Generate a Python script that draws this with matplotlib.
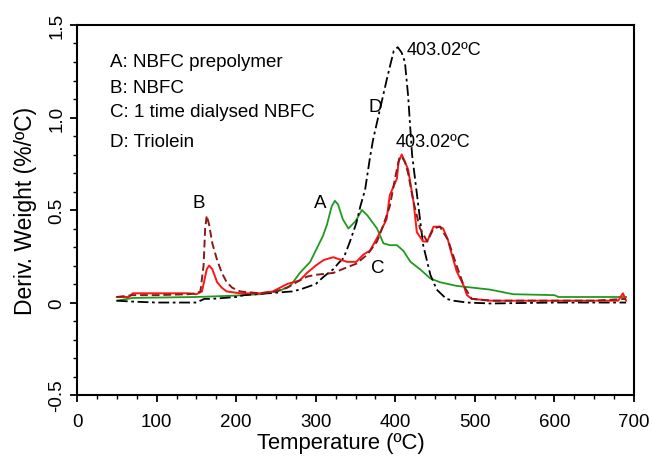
import matplotlib
matplotlib.use("Agg")
import matplotlib.pyplot as plt
from matplotlib.ticker import MultipleLocator

plt.rcParams['font.family'] = ['Liberation Sans', 'DejaVu Sans']

# D: Triolein (black dash-dot)
d_x = [50, 70, 100, 130, 150, 160, 170, 200, 210, 240, 270, 280, 300, 310, 322, 330, 335, 343,
       351, 356, 362, 368, 372, 381, 390, 398, 403, 408, 412, 416, 421, 429, 435, 444, 452, 464,
       473, 490, 520, 600, 650, 690]
d_y = [0.01, 0.005, 0.0, 0.0, 0.0, 0.02, 0.02, 0.03, 0.04, 0.05, 0.06, 0.07, 0.10, 0.14, 0.18, 0.22,
       0.24, 0.33, 0.43, 0.52, 0.61, 0.78, 0.88, 1.05, 1.22, 1.36, 1.38, 1.35, 1.30, 1.12, 0.80, 0.52,
       0.31, 0.15, 0.07, 0.02, 0.01, 0.0, -0.005, 0.0, 0.0, 0.0]

# A: NBFC prepolymer (green)
a_x = [50, 70, 150, 196, 230, 255, 268, 280, 293, 301, 309, 314, 320, 324, 328, 334, 341, 350,
       358, 365, 377, 385, 393, 402, 410, 419, 431, 444, 456, 477, 498, 519, 548, 600, 605, 650, 690]
a_y = [0.01, 0.025, 0.03, 0.037, 0.045, 0.065, 0.09, 0.16, 0.22, 0.29, 0.36, 0.42, 0.52, 0.55, 0.53,
       0.45, 0.40, 0.44, 0.50, 0.47, 0.40, 0.32, 0.31, 0.31, 0.28, 0.22, 0.18, 0.13, 0.11, 0.09, 0.08,
       0.07, 0.045, 0.04, 0.03, 0.03, 0.03]

# B: NBFC (dark red dashed)
b_x = [50, 70, 100, 140, 150, 155, 159, 161, 163, 166, 170, 176, 182, 188, 195, 205, 230, 250, 264,
       280, 289, 300, 322, 339, 351, 365, 377, 385, 393, 400, 405, 408, 412, 416, 423, 431, 440, 448,
       456, 466, 477, 486, 496, 520, 600, 650, 690]
b_y = [0.03, 0.04, 0.04, 0.045, 0.05, 0.06, 0.20, 0.40, 0.47, 0.42, 0.32, 0.23, 0.16, 0.11, 0.08,
       0.06, 0.05, 0.06, 0.08, 0.12, 0.14, 0.15, 0.16, 0.19, 0.21, 0.26, 0.33, 0.42, 0.52, 0.68, 0.78,
       0.79, 0.76, 0.70, 0.54, 0.40, 0.33, 0.40, 0.41, 0.34, 0.20, 0.09, 0.02, 0.01, 0.01, 0.01, 0.02]

# C: 1 time dialysed NBFC (bright red)
c_x = [50, 65, 70, 140, 150, 157, 160, 163, 166, 170, 176, 182, 188, 205, 230, 246, 264, 280, 289,
       300, 310, 322, 339, 351, 360, 368, 372, 381, 389, 393, 402, 404, 408, 410, 416, 423, 427, 435,
       440, 448, 456, 460, 466, 469, 477, 486, 490, 496, 520, 600, 680, 686, 690]
c_y = [0.03, 0.03, 0.05, 0.05, 0.045, 0.06, 0.12, 0.18, 0.20, 0.18, 0.11, 0.08, 0.06, 0.05, 0.05,
       0.06, 0.10, 0.12, 0.16, 0.20, 0.23, 0.245, 0.22, 0.22, 0.26, 0.28, 0.31, 0.38, 0.45, 0.58, 0.67,
       0.76, 0.80, 0.78, 0.72, 0.54, 0.38, 0.33, 0.33, 0.41, 0.41, 0.40, 0.34, 0.29, 0.17, 0.09, 0.04,
       0.02, 0.01, 0.01, 0.01, 0.05, 0.01]

legend_lines = ["A: NBFC prepolymer", "B: NBFC", "C: 1 time dialysed NBFC", "D: Triolein"]
peak_label = "403.02ºC"

fig = plt.figure(figsize=(6.53, 4.6), dpi=100)
ax = fig.add_axes([0.118, 0.139, 0.853, 0.8045])

ax.plot(a_x, a_y, color='#1f9a1f', lw=1.3, ls='-')
ax.plot(d_x, d_y, color='black', lw=1.3, ls=(0, (6, 2, 1.5, 2)))
ax.plot(c_x, c_y, color='#ff1515', lw=1.4, ls='-')
ax.plot(b_x, b_y, color='#8b1a1a', lw=1.4, ls=(0, (4, 2)))

ax.set_xlim(0, 700)
ax.set_ylim(-0.5, 1.5)
ax.xaxis.set_major_locator(MultipleLocator(100))
ax.xaxis.set_minor_locator(MultipleLocator(25))
ax.yaxis.set_major_locator(MultipleLocator(0.5))
ax.yaxis.set_minor_locator(MultipleLocator(0.1))
ax.set_yticks([-0.5, 0, 0.5, 1.0, 1.5])
ax.set_yticklabels(['-0.5', '0', '0.5', '1.0', '1.5'], rotation=90, va='center')
ax.tick_params(axis='both', which='major', length=5, width=1.3, labelsize=13.5, direction='out')
ax.tick_params(axis='x', which='major', pad=8)
ax.tick_params(axis='both', which='minor', length=3, width=1.0, direction='out')
for s in ax.spines.values():
    s.set_linewidth(1.5)

ax.set_xlabel("Temperature (ºC)", fontsize=15.8, x=0.474, labelpad=1)
ax.set_ylabel("Deriv. Weight (%/ºC)", fontsize=16.5, labelpad=8)

ys = [1.305, 1.16, 1.03, 0.87]
for t, y in zip(legend_lines, ys):
    ax.text(41.5, y, t, fontsize=13.5, ha='left', va='center')

ax.text(414, 1.37, peak_label, fontsize=13, ha='left', va='center')
ax.text(400, 0.873, peak_label, fontsize=13, ha='left', va='center')
ax.text(305, 0.54, "A", fontsize=13.5, ha='center', va='center')
ax.text(153, 0.54, "B", fontsize=13.5, ha='center', va='center')
ax.text(378, 0.19, "C", fontsize=13.5, ha='center', va='center')
ax.text(375, 1.06, "D", fontsize=13.5, ha='center', va='center')

fig.savefig("out.png", dpi=100)
